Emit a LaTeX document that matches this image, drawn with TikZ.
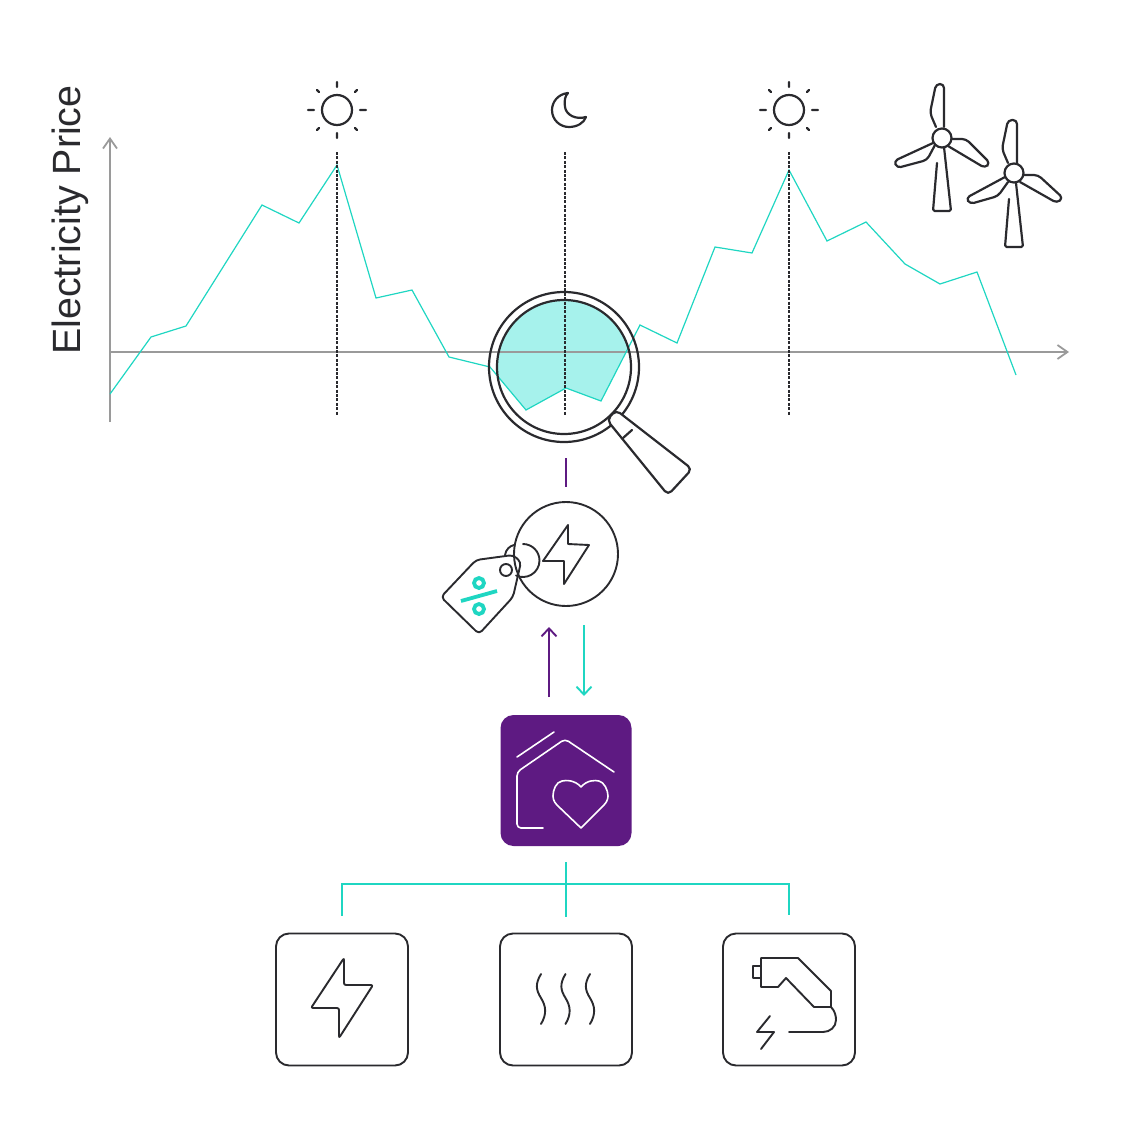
\documentclass[tikz,border=0pt]{standalone}
\usepackage{fontspec}
\setmainfont{Liberation Sans}
\usetikzlibrary{arrows.meta}
\definecolor{ink}{HTML}{2A2A2E}
\definecolor{tealc}{HTML}{1FD6C2}
\definecolor{tealfill}{HTML}{A6F2EC}
\definecolor{plum}{HTML}{5E1A82}
\definecolor{axisgrey}{HTML}{9A9A9A}
\tikzset{
  icon/.style={draw=ink,line width=1.1pt,line join=round,line cap=round},
  thinicon/.style={draw=ink,line width=0.95pt,line join=round,line cap=round},
  devbox/.style={draw=ink,line width=0.95pt,rounded corners=6.5pt,minimum size=66pt,inner sep=0pt,fill=white},
  homebox/.style={fill=plum,rounded corners=6.5pt,minimum size=65.5pt,inner sep=0pt},
  homeline/.style={draw=white,line width=0.8pt,line join=round,line cap=round},
  axis/.style={draw=axisgrey,line width=0.9pt,-{Straight Barb[length=5pt,width=7pt,line width=0.9pt]}},
  pricecurve/.style={draw=tealc,line width=0.6pt,line join=miter},
  night/.style={draw=ink,line width=0.85pt,dash pattern=on 1.5pt off 0.7pt},
  busline/.style={draw=tealc,line width=1.4pt},
  upflow/.style={draw=plum,line width=0.95pt,-{Straight Barb[length=4pt,width=7.5pt,line width=0.95pt]}},
  downflow/.style={draw=tealc,line width=0.95pt,-{Straight Barb[length=4pt,width=7.5pt,line width=0.95pt]}},
  percent/.style={draw=tealc,line width=1.9pt},
}
\begin{document}
\begin{tikzpicture}[x=0.5pt,y=-0.5pt]
\useasboundingbox (0,0) rectangle (1125,1125);
% label
\node[rotate=90,inner sep=0pt,font=\fontsize{19.7pt}{21pt}\selectfont,text=ink] (ylabel) at (70,220) {Electricity Price};
% highlighted area in the lens
\begin{scope}
\clip (564,367) circle[radius=67];
\fill[tealfill] (490,367) -- (526,410) -- (566,388) -- (601,401) -- (640,325) -- (640,280) -- (490,280) -- cycle;
\end{scope}
% axes
\coordinate (origin) at (110,352);
\coordinate (ytop) at (110,137);
\coordinate (ybot) at (110,422);
\coordinate (xend) at (1069,352);
\draw[axis] (ybot) -- (ytop);
\draw[axis] (origin) -- (xend);
% price curve
\draw[pricecurve] (110,394) -- (151,337) -- (186,326) -- (262,205) -- (299,223) -- (337,165) -- (376,298) -- (412,290) -- (449,357) -- (490,367) -- (526,410) -- (566,388) -- (601,401) -- (640,325) -- (677,343) -- (715,247) -- (752,253) -- (789,170) -- (827,241) -- (866,222) -- (905,264) -- (940,284) -- (977,272) -- (1016,375);
% day and night markers
\foreach \x in {337,565,789} \draw[night] (\x,152) -- (\x,416);
% suns
\foreach \x in {337,789}{
  \draw[icon] (\x,110) circle[radius=15];
  \draw[icon] (\x,82) -- (\x,87) (\x,133) -- (\x,138) (\x-29,110) -- (\x-23,110) (\x+23,110) -- (\x+29,110)
    (\x-20,90) -- (\x-18,92) (\x+20,90) -- (\x+18,92) (\x-20,130) -- (\x-18,128) (\x+20,130) -- (\x+18,128);
}
% moon
\draw[icon] (568,93) .. controls (558,94) and (552,102) .. (552,110) .. controls (552,120) and (560,127) .. (569,127) .. controls (577,127) and (584,123) .. (586,117) .. controls (576,120) and (566,115) .. (565,107) .. controls (564,101) and (565,96) .. (568,93) -- cycle;
% turbines
\draw[icon,rounded corners=2pt] (944,127) -- (944,84) -- (936,84) -- (930,113) -- (936,127);
\draw[icon,rounded corners=2pt] (952,139) -- (966,139) -- (990,163) -- (985,168) -- (948,146);
\draw[icon,rounded corners=2pt] (933,143) -- (894,161) -- (897,168) -- (927,160) -- (935,145);
\draw[icon,rounded corners=0.8pt] (944,147) -- (951,211) -- (933,211) -- (937,163);
\draw[icon] (942,138) circle[radius=9.5];
\draw[icon,rounded corners=2pt] (1017,163) -- (1017,120) -- (1008,120) -- (1002,149) -- (1008,163);
\draw[icon,rounded corners=2pt] (1023,175) -- (1038,175) -- (1063,198) -- (1057,203) -- (1020,182);
\draw[icon,rounded corners=2pt] (1005,177) -- (966,198) -- (970,204) -- (998,196) -- (1008,182);
\draw[icon,rounded corners=0.8pt] (1016,183) -- (1023,247) -- (1005,247) -- (1009,199);
\draw[icon] (1014,173) circle[radius=9.5];
% magnifier
\draw[icon] (564,367) circle[radius=75];
\draw[icon] (564,367) circle[radius=67];
\draw[icon,fill=white,rounded corners=2.5pt] (616,410) -- (692,469) -- (668,495) -- (607,420) -- cycle;
\draw[icon] (623,438) -- (632,430);
% upper connector
\coordinate (lensfoot) at (566,458);
\coordinate (tagtop) at (566,487);
\draw[draw=plum,line width=0.95pt] (lensfoot) -- (tagtop);
% price tag group
\node[draw=ink,line width=0.95pt,circle,minimum size=52pt,inner sep=0pt] (grid) at (566,554) {};
\draw[thinicon] (568,525) -- (568,544) -- (589,545) -- (564,584) -- (564,561) -- (543,561) -- cycle;
\draw[thinicon] (523,544) arc[start angle=-90,end angle=115,radius=16.5];
\draw[thinicon] (505,555) .. controls (506,549) and (510,546) .. (514,545);
\draw[thinicon,rounded corners=2pt] (476,560) -- (513,555) -- (521,562) -- (513,597) -- (479,634) -- (441,597) -- cycle;
\draw[thinicon] (506,570) circle[radius=6];
\draw[percent] (479,583) circle[radius=5];
\draw[percent] (479,609) circle[radius=5];
\draw[percent] (461,601) -- (497,591);
% flows
\node[homebox] (home) at (566,780.5) {};
\coordinate (upstart) at (549,697);
\coordinate (upend) at (549,627);
\coordinate (downstart) at (584,625);
\coordinate (downend) at (584,696);
\draw[upflow] (upstart) -- (upend);
\draw[downflow] (downstart) -- (downend);
% home icon
\draw[homeline] (517,757) -- (554,732);
\draw[homeline,rounded corners=2pt] (614,772) -- (565,739) -- (517,772) -- (517,828) -- (543,828);
\draw[homeline] (581,787) .. controls (575,780) and (566,780) .. (562,781) .. controls (556,782) and (553,790) .. (553,796) .. controls (553,801) and (556,804) .. (558,806) -- (581,828) -- (603,806) .. controls (606,803) and (608,800) .. (608,796) .. controls (608,790) and (604,782) .. (599,781) .. controls (595,780) and (587,780) .. (581,787) -- cycle;
% devices
\node[devbox] (dev1) at (342,999.5) {};
\node[devbox] (dev2) at (566,999.5) {};
\node[devbox] (dev3) at (789,999.5) {};
\coordinate (bus) at (566,884);
\draw[busline,shorten <=8pt,shorten >=8pt] (home) -- (dev2);
\draw[busline,shorten >=8.5pt] (bus) -| (dev1);
\draw[busline,shorten >=9pt] (bus) -| (dev3);
\draw[thinicon,rounded corners=1pt] (344,958) -- (344,985) -- (373,985) -- (339,1038) -- (339,1008) -- (311,1008) -- cycle;
\foreach \x in {541,565.5,590}
  \draw[thinicon] (\x,974) .. controls (\x-6,984) and (\x-5,990) .. (\x,998) .. controls (\x+5,1006) and (\x+6,1014) .. (\x,1024);
\draw[thinicon] (761,958) -- (798,958) -- (831,991) -- (831,1007) -- (814,1007) -- (786,978) -- (778,987) -- (761,987) -- cycle;
\draw[thinicon] (761,966) -- (753,966) -- (753,978) -- (761,978);
\draw[thinicon] (831,1007) .. controls (835,1011) and (836,1016) .. (836,1020) .. controls (836,1027) and (830,1032) .. (823,1032) -- (789,1032);
\draw[thinicon] (770,1016) -- (757,1032) -- (774,1032) -- (761,1049);
\end{tikzpicture}
\end{document}
